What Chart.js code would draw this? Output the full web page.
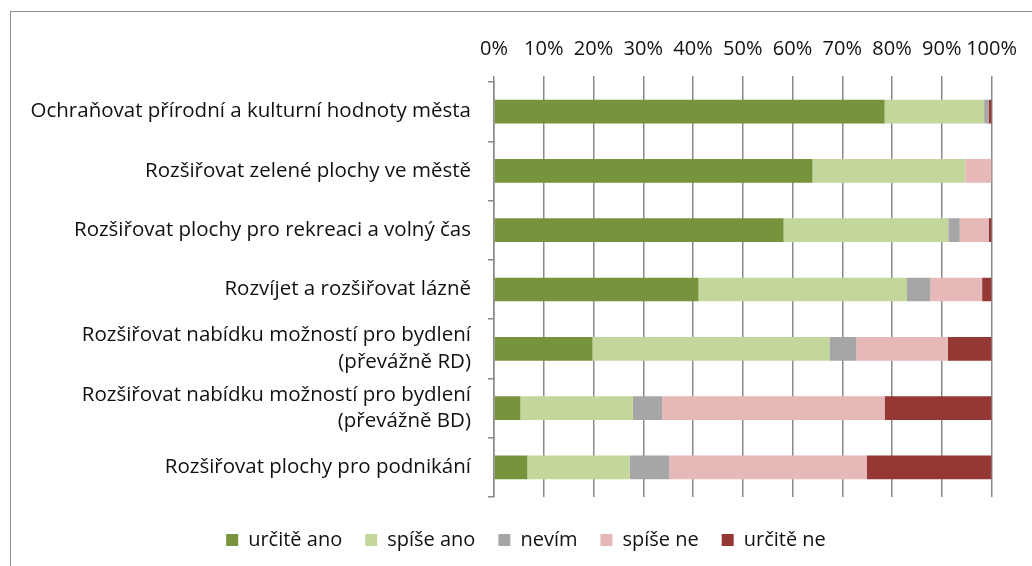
<!DOCTYPE html>
<html>
<head>
<meta charset="utf-8">
<script src="https://cdn.jsdelivr.net/npm/chart.js@4/dist/chart.umd.min.js"></script>
<style>
  html, body { margin: 0; padding: 0; background: #fff; overflow: hidden; }
  #frame { position: absolute; left: 10px; top: 11px; width: 1040px; height: 600px; border: 1px solid #8e8e8e; }
  #wrap { position: absolute; left: 0; top: 0; width: 1032px; height: 566px; }
</style>
</head>
<body>
<div id="frame"></div>
<div id="wrap"><canvas id="chartAnketa"></canvas></div>
<script>
const categories = [
  'Ochraňovat přírodní a kulturní hodnoty města',
  'Rozšiřovat zelené plochy ve městě',
  'Rozšiřovat plochy pro rekreaci a volný čas',
  'Rozvíjet a rozšiřovat lázně',
  ['Rozšiřovat nabídku možností pro bydlení', '(převážně RD)'],
  ['Rozšiřovat nabídku možností pro bydlení', '(převážně BD)'],
  'Rozšiřovat plochy pro podnikání'
];
const seriesNames = ['určitě ano', 'spíše ano', 'nevím', 'spíše ne', 'určitě ne'];
const urciteAno = [78.5, 64.0, 58.2, 41.1, 19.8, 5.3, 6.7];
const spiseAno  = [20.0, 30.7, 33.1, 41.9, 47.6, 22.6, 20.6];
const nevim     = [0.9, 0, 2.3, 4.7, 5.4, 5.9, 7.9];
const spiseNe   = [0, 5.3, 5.8, 10.4, 18.4, 44.7, 39.7];
const urciteNe  = [0.6, 0, 0.6, 1.9, 8.8, 21.5, 25.1];
const xTicks = [0, 10, 20, 30, 40, 50, 60, 70, 80, 90, 100];

const barvy = ['#77933C', '#C3D69B', '#A6A6A6', '#E6B9B8', '#953735'];
const hodnoty = [urciteAno, spiseAno, nevim, spiseNe, urciteNe];

Chart.defaults.font.family = '"Open Sans", Lato, sans-serif';
Chart.defaults.color = '#111';

// posun legendy (jako v Excelu je trochu vpravo a níž)
const posunLegendy = {
  id: 'posunLegendy',
  afterLayout(chart) {
    const lg = chart.legend;
    if (!lg) return;
    lg.left += 21; lg.right += 21;
    lg.top += 10; lg.bottom += 10;
  }
};

const ctx = document.getElementById('chartAnketa').getContext('2d');
new Chart(ctx, {
  type: 'bar',
  data: {
    labels: categories,
    datasets: seriesNames.map((name, i) => ({
      label: name,
      data: hodnoty[i],
      backgroundColor: barvy[i],
      borderWidth: 0,
      barPercentage: 0.4,
      categoryPercentage: 1
    }))
  },
  options: {
    indexAxis: 'y',
    responsive: true,
    maintainAspectRatio: false,
    animation: false,
    layout: { padding: { left: 12, right: 34, top: 24, bottom: 16 } },
    scales: {
      x: {
        position: 'top',
        stacked: true,
        min: 0,
        max: 100,
        afterBuildTicks: axis => { axis.ticks = xTicks.map(v => ({ value: v })); },
        afterFit: axis => { axis.height = 58; },
        ticks: {
          callback: v => v + '%',
          font: { size: 20 },
          padding: 15,
          maxRotation: 0,
          autoSkip: false
        },
        grid: { color: '#8a8a8a', lineWidth: 1.5, tickLength: 6 },
        border: { display: false }
      },
      y: {
        stacked: true,
        afterFit: axis => { axis.width = 482; },
        ticks: { font: { size: 20.5, lineHeight: 1.3 }, padding: 17, autoSkip: false },
        grid: { drawOnChartArea: false, color: '#8a8a8a', lineWidth: 1.5, tickLength: 6 },
        border: { color: '#8a8a8a', width: 1.5 }
      }
    },
    plugins: {
      legend: {
        display: true,
        position: 'bottom',
        labels: { boxWidth: 12, boxHeight: 12, font: { size: 20 }, padding: 23 }
      },
      tooltip: { enabled: false }
    }
  },
  plugins: [posunLegendy]
});
</script>
</body>
</html>
